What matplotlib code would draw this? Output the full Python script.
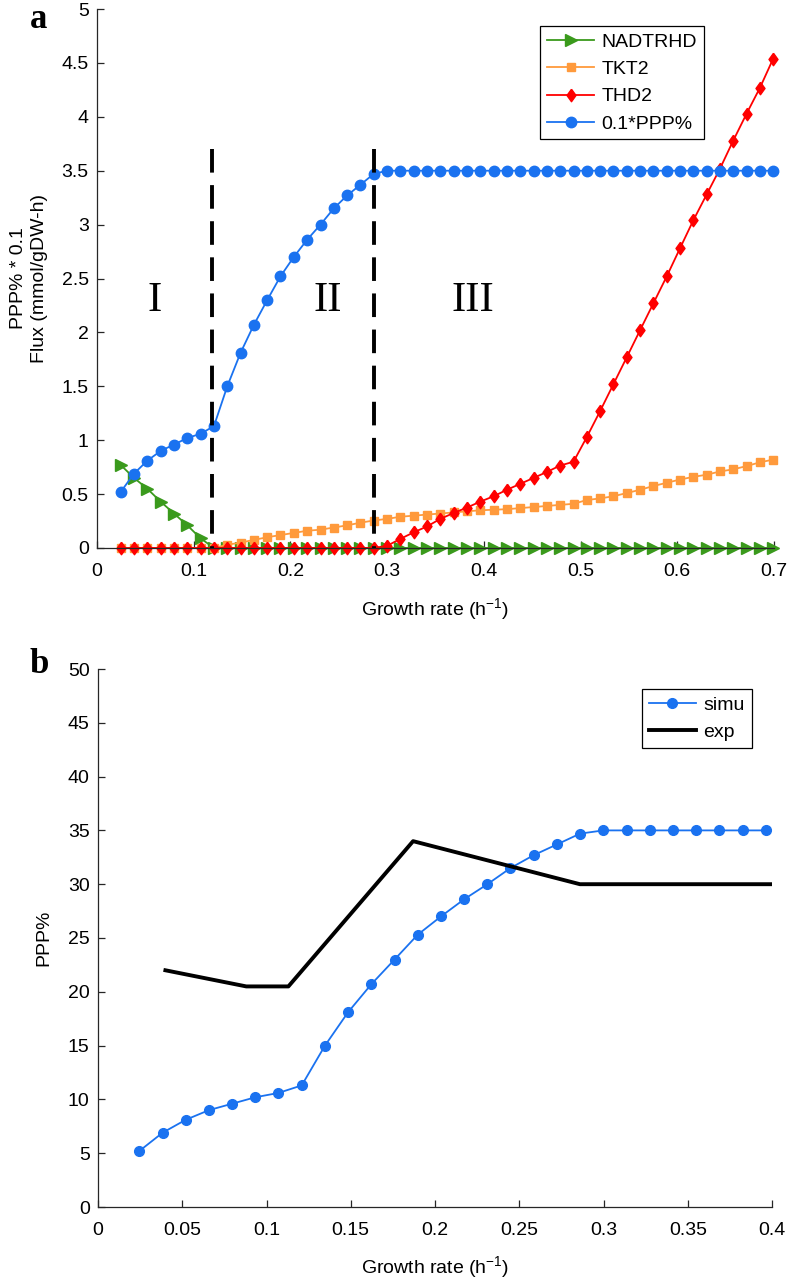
import numpy as np
import matplotlib
matplotlib.use('Agg')
import matplotlib.pyplot as plt
from matplotlib.ticker import FormatStrFormatter, MultipleLocator

plt.rcParams['font.family'] = ['Liberation Sans', 'DejaVu Sans']
plt.rcParams['mathtext.fontset'] = 'custom'
plt.rcParams['mathtext.rm'] = 'Liberation Sans'
plt.rcParams['mathtext.it'] = 'Liberation Sans:italic'
plt.rcParams['mathtext.bf'] = 'Liberation Serif:bold'
plt.rcParams['lines.scale_dashes'] = False

# growth rates of the simulation points (h^-1)
growth_rate = [0.0245, 0.0383, 0.0520, 0.0658, 0.0796, 0.0934, 0.1071, 0.1209, 0.1347, 0.1484,
               0.1622, 0.1760, 0.1897, 0.2035, 0.2173, 0.2311, 0.2448, 0.2586, 0.2724, 0.2861,
               0.2999, 0.3137, 0.3274, 0.3412, 0.3550, 0.3688, 0.3825, 0.3963, 0.4101, 0.4238,
               0.4376, 0.4514, 0.4651, 0.4789, 0.4927, 0.5065, 0.5202, 0.5340, 0.5478, 0.5615,
               0.5753, 0.5891, 0.6028, 0.6166, 0.6304, 0.6442, 0.6579, 0.6717, 0.6855, 0.6992]

# panel a fluxes
nadtrhd = [0.77, 0.65, 0.55, 0.43, 0.32, 0.21, 0.09, 0.0, 0, 0,
           0, 0, 0, 0, 0, 0, 0, 0, 0, 0,
           0, 0, 0, 0, 0, 0, 0, 0, 0, 0,
           0, 0, 0, 0, 0, 0, 0, 0, 0, 0,
           0, 0, 0, 0, 0, 0, 0, 0, 0, 0]
tkt2 = [0, 0, 0, 0, 0, 0, 0, 0.0, 0.03, 0.05,
        0.075, 0.10, 0.12, 0.14, 0.16, 0.17, 0.19, 0.21, 0.235, 0.255,
        0.27, 0.29, 0.30, 0.31, 0.32, 0.33, 0.34, 0.35, 0.355, 0.36,
        0.37, 0.38, 0.39, 0.40, 0.41, 0.445, 0.46, 0.48, 0.51, 0.54,
        0.575, 0.605, 0.635, 0.66, 0.68, 0.71, 0.73, 0.76, 0.795, 0.82]
thd2 = [0, 0, 0, 0, 0, 0, 0, 0, 0, 0,
        0, 0, 0, 0, 0, 0, 0, 0, 0, 0,
        0.02, 0.085, 0.145, 0.20, 0.27, 0.325, 0.375, 0.43, 0.48, 0.54,
        0.595, 0.65, 0.705, 0.765, 0.80, 1.03, 1.27, 1.52, 1.77, 2.02,
        2.27, 2.52, 2.78, 3.04, 3.28, 3.52, 3.78, 4.03, 4.27, 4.54]
ppp_scaled = [0.52, 0.69, 0.81, 0.90, 0.96, 1.02, 1.06, 1.13, 1.50, 1.81,
              2.07, 2.30, 2.52, 2.70, 2.86, 3.00, 3.15, 3.27, 3.37, 3.47,
              3.50, 3.50, 3.50, 3.50, 3.50, 3.50, 3.50, 3.50, 3.50, 3.50,
              3.50, 3.50, 3.50, 3.50, 3.50, 3.50, 3.50, 3.50, 3.50, 3.50,
              3.50, 3.50, 3.50, 3.50, 3.50, 3.50, 3.50, 3.50, 3.50, 3.50]

phase_bounds = [0.119, 0.2865]
phase_names = ['I', 'II', 'III']
phase_label_x = [0.060, 0.239, 0.389]

# panel b
simu = [5.2, 6.9, 8.1, 9.0, 9.6, 10.2, 10.6, 11.3, 15.0, 18.1,
        20.7, 23.0, 25.3, 27.0, 28.6, 30.0, 31.5, 32.7, 33.7, 34.7,
        35.0, 35.0, 35.0, 35.0, 35.0, 35.0, 35.0, 35.0]
exp_x = [0.040, 0.088, 0.113, 0.187, 0.286, 0.399]
exp_y = [22.0, 20.5, 20.5, 34.0, 30.0, 30.0]

blue = '#1a72f0'
green = '#3a9a1c'
orange = '#ff9a3c'
red = '#ff0000'
spine_col = '#262626'
fs = 14

diamond = [(0, 1), (0.72, 0), (0, -1), (-0.72, 0), (0, 1)]


def style_axes(ax):
    for s in ['top', 'right']:
        ax.spines[s].set_visible(False)
    for s in ['left', 'bottom']:
        ax.spines[s].set_color(spine_col)
        ax.spines[s].set_linewidth(0.9)
    ax.tick_params(direction='in', length=5, width=0.9, color=spine_col,
                   labelsize=fs, labelcolor='black')
    ax.tick_params(axis='x', pad=11)
    ax.tick_params(axis='y', pad=6)
    ax.xaxis.set_major_formatter(FormatStrFormatter('%g'))
    ax.yaxis.set_major_formatter(FormatStrFormatter('%g'))


fig = plt.figure(figsize=(7.87, 12.79), dpi=100)
ax1 = fig.add_axes([97 / 787, 1 - 548 / 1279, 677 / 787, 539 / 1279])
ax2 = fig.add_axes([98 / 787, 1 - 1207 / 1279, 674 / 787, 538 / 1279])

# ---- panel a ----
ax1.plot(growth_rate, nadtrhd, color=green, marker='>', markersize=8, lw=1.3,
         label='NADTRHD', clip_on=False)
ax1.plot(growth_rate, tkt2, color=orange, marker='s', markersize=6, lw=1.3,
         label='TKT2', clip_on=False)
ax1.plot(growth_rate, thd2, color=red, marker=diamond, markersize=9, lw=1.3,
         label='THD2', clip_on=False)
ax1.plot(growth_rate, ppp_scaled, color=blue, marker='o', markersize=7.5, lw=1.3,
         label='0.1*PPP%', clip_on=False)

for xb in phase_bounds:
    ax1.plot([xb, xb], [3.7, 0], color='black', lw=2.8, dashes=(17, 9))
for name, xl in zip(phase_names, phase_label_x):
    ax1.text(xl, 2.29, name, ha='center', va='center', fontsize=31,
             family=['Liberation Serif', 'DejaVu Serif'])

ax1.set_xlim(0, 0.7)
ax1.set_ylim(0, 5)
ax1.xaxis.set_major_locator(MultipleLocator(0.1))
ax1.yaxis.set_major_locator(MultipleLocator(0.5))
style_axes(ax1)
ax1.set_xlabel('Growth rate (h$^{-1}$)', fontsize=fs)
ax1.xaxis.set_label_coords(0.5, -0.09)
ax1.xaxis.label.set_va('top')
ax1.set_ylabel('PPP% * 0.1\nFlux (mmol/gDW-h)', fontsize=fs, linespacing=1.3)
ax1.yaxis.set_label_coords(-0.072, 0.5)

leg1 = ax1.legend(loc='upper right', bbox_to_anchor=(0.8966, 0.968), borderaxespad=0,
                  fancybox=False, edgecolor='black', framealpha=1, fontsize=fs,
                  handlelength=2.4, labelspacing=0.5, handletextpad=0.4, borderpad=0.35)
leg1.get_frame().set_linewidth(0.9)

# ---- panel b ----
ax2.plot(growth_rate[:len(simu)], simu, color=blue, marker='o', markersize=7, lw=1.3,
         label='simu')
ax2.plot(exp_x, exp_y, color='black', lw=2.8, label='exp')
ax2.set_xlim(0, 0.4)
ax2.set_ylim(0, 50)
ax2.xaxis.set_major_locator(MultipleLocator(0.05))
ax2.yaxis.set_major_locator(MultipleLocator(5))
style_axes(ax2)
ax2.set_xlabel('Growth rate (h$^{-1}$)', fontsize=fs)
ax2.xaxis.set_label_coords(0.5, -0.087)
ax2.xaxis.label.set_va('top')
ax2.set_ylabel('PPP%', fontsize=fs)
ax2.yaxis.set_label_coords(-0.067, 0.5)

leg2 = ax2.legend(loc='upper right', bbox_to_anchor=(0.970, 0.962), borderaxespad=0,
                  fancybox=False, edgecolor='black', framealpha=1, fontsize=fs,
                  handlelength=2.4, labelspacing=0.5, handletextpad=0.4, borderpad=0.35)
leg2.get_frame().set_linewidth(0.9)

# panel letters
fig.text(38 / 787, 1 - 2 / 1279, r'$\mathbf{a}$', fontsize=25,
         ha='center', va='top')
fig.text(39 / 787, 1 - 647 / 1279, r'$\mathbf{b}$', fontsize=25,
         ha='center', va='top')

fig.savefig('out.png', dpi=100)
